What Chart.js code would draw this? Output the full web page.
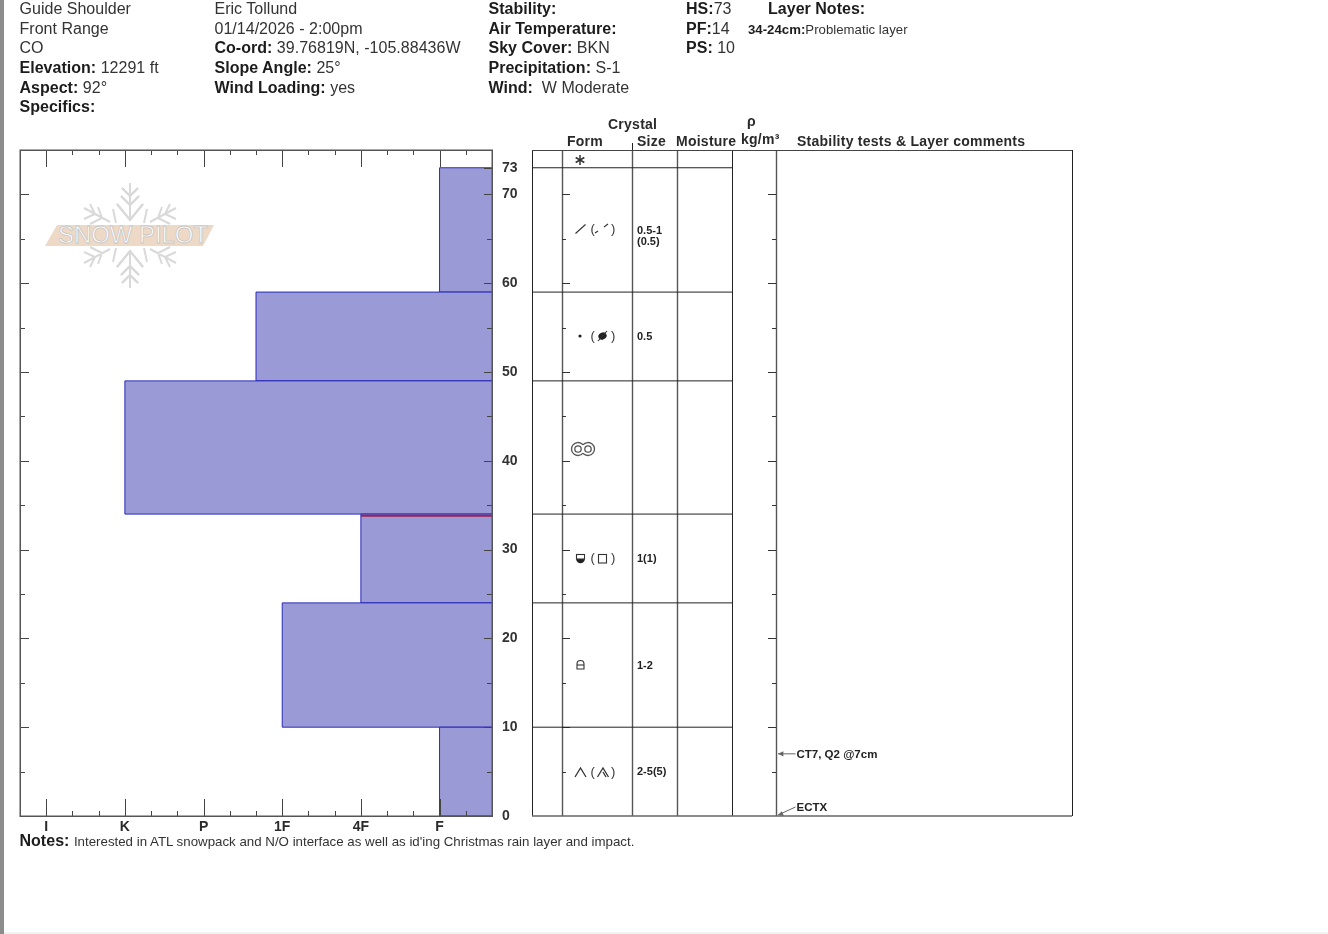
<!DOCTYPE html>
<html>
<head>
<meta charset="utf-8">
<title>Snow profile</title>
<script src="https://cdn.jsdelivr.net/npm/chart.js@4"></script>
<style>
  html, body { margin: 0; padding: 0; background: #fff; width: 1328px; height: 934px; overflow: hidden; }
  body { position: relative; font-family: "Liberation Sans", Arial, sans-serif; color: #333; }
  #strip { position: absolute; left: 0; top: 0; width: 4px; height: 934px; background: #8c8c8c; }
  #foot { position: absolute; left: 4px; right: 0; top: 932px; height: 2px; background: #f2f2f2; }
  canvas { position: absolute; top: 0; }
  #hardness { left: 0; }
  #table { left: 530px; }
  #mark { position: absolute; left: 0; top: 0; }
  .t { position: absolute; white-space: pre; font-size: 16px; line-height: 18px; letter-spacing: 0.02px; }
  .t b { color: #1c1c1c; }
  .h { position: absolute; white-space: pre; font-size: 14px; line-height: 16px; font-weight: bold; color: #2a2a2a; letter-spacing: 0.25px; }
</style>
</head>
<body>
<div id="strip"></div><div id="foot"></div>

<svg id="mark" width="240" height="300" viewBox="0 0 240 300">
  <defs>
    <g id="arm" fill="none" stroke="#d9d9d9" stroke-width="2">
      <path d="M130 183V220M122 188L130 196L138 188M121 196L130 205L139 196M117 204L130 220L143 204"/>
      <path d="M84 208L110 222M90 204L95 214L84 219M98 207L102 218L90 224M113 209L116 223"/>
    </g>
  </defs>
  <use href="#arm"/>
  <use href="#arm" transform="translate(260 0) scale(-1 1)"/>
  <use href="#arm" transform="translate(0 471) scale(1 -1)"/>
  <use href="#arm" transform="translate(260 471) scale(-1 -1)"/>
  <polygon points="45,246 57,225 214,225 203,246" fill="#eed9c7"/>
  <text x="133" y="243" text-anchor="middle" font-family="Liberation Sans" font-size="23"
        textLength="150" lengthAdjust="spacingAndGlyphs"
        fill="#ffffff" stroke="#c8c6c4" stroke-width="0.8">SNOW PILOT</text>
</svg>

<canvas id="hardness" width="530" height="836"></canvas>
<canvas id="table" width="560" height="836"></canvas>

<div class="t" style="left:19.5px;top:0px">Guide Shoulder</div>
<div class="t" style="left:19.5px;top:20px">Front Range</div>
<div class="t" style="left:19.5px;top:39px">CO</div>
<div class="t" style="left:19.5px;top:59px"><b>Elevation:</b> 12291 ft</div>
<div class="t" style="left:19.5px;top:79px"><b>Aspect:</b> 92°</div>
<div class="t" style="left:19.5px;top:98px"><b>Specifics:</b></div>

<div class="t" style="left:214.5px;top:0px">Eric Tollund</div>
<div class="t" style="left:214.5px;top:20px">01/14/2026 - 2:00pm</div>
<div class="t" style="left:214.5px;top:39px"><b>Co-ord:</b> 39.76819N, -105.88436W</div>
<div class="t" style="left:214.5px;top:59px"><b>Slope Angle:</b> 25°</div>
<div class="t" style="left:214.5px;top:79px"><b>Wind Loading:</b> yes</div>

<div class="t" style="left:488.5px;top:0px"><b>Stability:</b></div>
<div class="t" style="left:488.5px;top:20px"><b>Air Temperature:</b></div>
<div class="t" style="left:488.5px;top:39px"><b>Sky Cover:</b> BKN</div>
<div class="t" style="left:488.5px;top:59px"><b>Precipitation:</b> S-1</div>
<div class="t" style="left:488.5px;top:79px"><b>Wind:</b>  W Moderate</div>

<div class="t" style="left:686px;top:0px"><b>HS:</b>73</div>
<div class="t" style="left:686px;top:20px"><b>PF:</b>14</div>
<div class="t" style="left:686px;top:39px"><b>PS:</b> 10</div>

<div class="t" style="left:768px;top:0px"><b>Layer Notes:</b></div>
<div class="t" style="left:748px;top:21px;font-size:13.2px"><b>34-24cm:</b>Problematic layer</div>

<div class="h" style="left:608px;top:116px">Crystal</div>
<div class="h" style="left:567px;top:133px">Form</div>
<div class="h" style="left:637px;top:133px">Size</div>
<div class="h" style="left:676px;top:133px">Moisture</div>
<div class="h" style="left:747px;top:113px">ρ</div>
<div class="h" style="left:741px;top:131px">kg/m³</div>
<div class="h" style="left:797px;top:133px">Stability tests &amp; Layer comments</div>

<div class="t" style="left:19.5px;top:832px"><b>Notes:</b> <span style="font-size:13.3px;letter-spacing:0">Interested in ATL snowpack and N/O interface as well as id'ing Christmas rain layer and impact.</span></div>

<script>
// Snow layers, bottom to top (cm above ground), with hand hardness on a third-step index
const layerBottoms = [0, 10, 24, 34, 49, 59];
const layerTops = [10, 24, 34, 49, 59, 73];
const layerHardness = [2, 8, 5, 14, 9, 2];

// Hardness index positions and their names
const hardnessTicks = [2, 5, 8, 11, 14, 17];
const hardnessNames = ['F', '4F', '1F', 'P', 'K', 'I'];

// Problem interface marked on the profile
const criticalDepth = [33.8];
const criticalHardness = [5];

// Rows of the crystal table, bottom to top; the last row is the surface layer
const tableBoundaries = [10, 24, 34, 49, 59, 73];
const rowCentres = [5, 17, 29, 41.5, 54, 66, 74];
const rowForms = ['depth', 'facetRound', 'meltFacet', 'melt', 'fragment', 'decomposed', 'star'];
const rowSizes = [['2-5(5)'], ['1-2'], ['1(1)'], [], ['0.5'], ['0.5-1', '(0.5)'], []];

// Stability test results
const testNames = ['CT7, Q2 @7cm', 'ECTX'];
const testDepths = [7, 0];

const depthTicks = [0, 5, 10, 15, 20, 25, 30, 35, 40, 45, 50, 55, 60, 65, 70];
const depthLabels = [0, 10, 20, 30, 40, 50, 60, 70, 73];

const INK = '#555';
const line = (c, x0, y0, x1, y1) => { c.beginPath(); c.moveTo(x0, y0); c.lineTo(x1, y1); c.stroke(); };

// Inward tick marks and the outer frame of the hardness plot
const hardnessFrame = {
  id: 'hardnessFrame',
  afterDatasetsDraw(chart) {
    const { ctx: c, chartArea: a, scales: { x, y } } = chart;
    c.save();
    c.strokeStyle = '#444';
    c.lineWidth = 1;
    for (let v = 0; v <= 18; v++) {
      const px = Math.round(x.getPixelForValue(v)) + 0.5;
      const len = hardnessTicks.includes(v) ? 17 : 5;
      line(c, px, a.top, px, a.top + len);
      line(c, px, a.bottom, px, a.bottom - len);
    }
    depthTicks.concat([73]).forEach(v => {
      const py = Math.round(y.getPixelForValue(v)) + 0.5;
      const major = v % 10 === 0 || v === 73;
      if (v !== 73) line(c, a.left, py, a.left + (major ? 9 : 5), py);
      line(c, a.right, py, a.right - (major ? 8 : 5), py);
    });
    c.strokeStyle = INK;
    c.lineWidth = 1.5;
    c.strokeRect(a.left + 0.25, a.top + 0.25, a.width, a.height);
    c.restore();
  }
};

const layerDatasets = layerBottoms.map((bottom, i) => ({
  type: 'line',
  label: 'Layer ' + bottom + '-' + layerTops[i],
  data: [
    { x: 0, y: bottom },
    { x: layerHardness[i], y: bottom },
    { x: layerHardness[i], y: layerTops[i] },
    { x: 0, y: layerTops[i] }
  ],
  borderColor: '#2a2ab8',
  borderWidth: 1,
  backgroundColor: '#9a9ad6',
  fill: 'origin',
  pointRadius: 0,
  tension: 0
}));

const criticalDataset = {
  type: 'line',
  label: 'Problematic layer',
  order: -1,
  data: [{ x: 0, y: criticalDepth[0] }, { x: criticalHardness[0], y: criticalDepth[0] }],
  borderColor: '#a02050',
  borderWidth: 2,
  fill: false,
  pointRadius: 0
};

new Chart(document.getElementById('hardness'), {
  type: 'line',
  data: { datasets: layerDatasets.concat([criticalDataset]) },
  options: {
    indexAxis: 'y',
    responsive: false,
    animation: false,
    layout: { padding: { left: 20, top: 150, right: 0, bottom: 0 } },
    plugins: { legend: { display: false }, tooltip: { enabled: false } },
    scales: {
      x: {
        type: 'linear',
        reverse: true,
        min: 0,
        max: 18,
        grid: { display: false, drawTicks: false },
        border: { display: false },
        afterBuildTicks(s) { s.ticks = hardnessTicks.map(value => ({ value })); },
        afterFit(s) { s.height = 20; },
        ticks: {
          autoSkip: false,
          maxRotation: 0,
          padding: 3,
          color: '#2a2a2a',
          font: { family: 'Liberation Sans', size: 14, weight: 'bold' },
          callback: v => hardnessNames[hardnessTicks.indexOf(v)]
        }
      },
      y: {
        type: 'linear',
        position: 'right',
        min: 0,
        max: 75,
        grid: { display: false, drawTicks: false },
        border: { display: false },
        afterBuildTicks(s) { s.ticks = depthLabels.map(value => ({ value })); },
        afterFit(s) { s.width = 38; },
        ticks: {
          autoSkip: false,
          padding: 10,
          color: '#333',
          font: { family: 'Liberation Sans', size: 14, weight: 'bold' },
          callback: v => String(v)
        }
      }
    }
  },
  plugins: [hardnessFrame]
});

// Crystal form glyphs, drawn around a centre point
function wrap(c, y) {
  c.save();
  c.font = '13px "Liberation Sans"';
  c.fillStyle = '#333';
  c.textBaseline = 'middle';
  c.fillText('(', 590.5, y);
  c.fillText(')', 611, y);
  c.restore();
}
function caret(c, x, y) { c.beginPath(); c.moveTo(x - 5.5, y + 5); c.lineTo(x, y - 4); c.lineTo(x + 5.5, y + 5); c.stroke(); }
const glyphs = {
  star(c, y) {
    c.lineWidth = 1.5;
    for (let k = 0; k < 3; k++) {
      const a = Math.PI / 2 + k * Math.PI / 3;
      line(c, 580 + 5 * Math.cos(a), y + 1 + 5 * Math.sin(a), 580 - 5 * Math.cos(a), y + 1 - 5 * Math.sin(a));
    }
  },
  decomposed(c, y) {
    line(c, 575.5, y + 3.5, 585.5, y - 5.5);
    wrap(c, y - 1);
    line(c, 595, y + 3, 598, y + 1); line(c, 604, y - 3, 608, y - 6);
  },
  fragment(c, y) {
    c.beginPath(); c.arc(580, y, 1.6, 0, 7); c.fill();
    wrap(c, y);
    c.beginPath(); c.ellipse(602.5, y, 4.3, 3.4, -0.5, 0, 7); c.fill();
    line(c, 598, y + 5, 607, y - 5);
  },
  melt(c, y) {
    c.strokeStyle = '#555';
    c.lineWidth = 1.3;
    y += 2;
    c.beginPath(); c.arc(578, y, 6.5, 0.69, -0.69); c.stroke();
    c.beginPath(); c.arc(588, y, 6.5, Math.PI + 0.69, Math.PI - 0.69); c.stroke();
    c.beginPath(); c.arc(578, y, 3.2, 0, 7); c.stroke();
    c.beginPath(); c.arc(588, y, 3.2, 0, 7); c.stroke();
  },
  meltFacet(c, y) {
    c.beginPath(); c.arc(580.5, y + 1, 4.3, 0, Math.PI); c.fill();
    c.strokeRect(576.5, y - 3.5, 8, 4.5);
    wrap(c, y);
    c.strokeRect(598.5, y - 3.5, 8, 8.5);
  },
  facetRound(c, y) {
    c.beginPath();
    c.arc(580.5, y - 1, 3.5, Math.PI, 0);
    c.lineTo(584, y + 4); c.lineTo(577, y + 4); c.closePath(); c.stroke();
    line(c, 577, y, 584, y);
  },
  depth(c, y) {
    c.lineWidth = 1.3;
    caret(c, 580.5, y);
    wrap(c, y);
    caret(c, 603, y);
    line(c, 603, y, 606, y + 5);
  }
};

// Column rules, depth ticks, cell text and test callouts of the crystal table
const columnEdges = [0, 30, 100, 145, 200, 244, 540];
const tableFrame = {
  id: 'tableFrame',
  beforeDatasetsDraw(chart) {
    const { ctx: c, chartArea: a, scales: { x, y } } = chart;
    c.save();
    columnEdges.forEach((edge, i) => {
      const px = Math.round(x.getPixelForValue(edge));
      c.strokeStyle = i === 0 || i === 4 || i === 6 ? '#222' : '#555';
      c.lineWidth = i === 0 || i === 4 || i === 6 ? 1 : 1.4;
      line(c, px + 0.5, a.top, px + 0.5, a.bottom);
    });
    const sizeRule = Math.round(x.getPixelForValue(columnEdges[2])) + 0.5;
    line(c, sizeRule, a.top - 7, sizeRule, a.top);
    c.strokeStyle = '#333';
    c.lineWidth = 1;
    depthTicks.forEach(v => {
      const py = Math.round(y.getPixelForValue(v)) + 0.5;
      const len = v % 10 === 0 ? 8 : 4;
      const form = Math.round(x.getPixelForValue(columnEdges[1]));
      const dens = Math.round(x.getPixelForValue(columnEdges[5]));
      if (v !== 0) { line(c, form, py, form + len, py); line(c, dens, py, dens - len, py); }
    });
    c.strokeStyle = '#444';
    c.lineWidth = 1;
    line(c, a.left, a.top + 0.5, a.right, a.top + 0.5);
    c.strokeStyle = '#666';
    c.lineWidth = 1.6;
    line(c, a.left, a.bottom, a.right, a.bottom);
    c.restore();
  },
  afterDatasetsDraw(chart) {
    const { ctx: c, scales: { x, y } } = chart;
    c.save();
    rowForms.forEach((form, i) => {
      c.save();
      c.strokeStyle = '#333';
      c.fillStyle = '#222';
      c.lineWidth = 1.1;
      c.translate(-530, 0);
      glyphs[form](c, Math.round(y.getPixelForValue(rowCentres[i])));
      c.restore();
    });
    c.fillStyle = '#222';
    c.font = 'bold 11px "Liberation Sans"';
    c.textBaseline = 'middle';
    rowSizes.forEach((lines, i) => {
      const py = y.getPixelForValue(rowCentres[i]);
      lines.forEach((text, k) => {
        c.fillText(text, x.getPixelForValue(105), py + 0.8 + k * 11);
      });
    });
    c.font = 'bold 11.5px "Liberation Sans"';
    c.strokeStyle = '#666';
    testNames.forEach((name, i) => {
      const py = y.getPixelForValue(testDepths[i]);
      const wall = x.getPixelForValue(columnEdges[5]) + 2;
      const textX = x.getPixelForValue(264.5);
      const ty = testDepths[i] === 0 ? py - 9 : py;
      c.fillStyle = '#222';
      c.fillText(name, textX, ty + 1);
      line(c, wall, py - (testDepths[i] === 0 ? 1 : 0), textX - 1, ty);
      const ang = Math.atan2(ty - py, textX - wall);
      c.beginPath();
      c.moveTo(wall, py - (testDepths[i] === 0 ? 1 : 0));
      c.lineTo(wall + 6 * Math.cos(ang - 0.45), py + 6 * Math.sin(ang - 0.45));
      c.lineTo(wall + 6 * Math.cos(ang + 0.45), py + 6 * Math.sin(ang + 0.45));
      c.closePath();
      c.fillStyle = '#666';
      c.fill();
    });
    c.restore();
  }
};

new Chart(document.getElementById('table'), {
  type: 'line',
  data: {
    datasets: tableBoundaries.map(depth => ({
      label: 'Boundary ' + depth,
      data: [{ x: 0, y: depth }, { x: columnEdges[4], y: depth }],
      borderColor: '#222',
      borderWidth: 1,
      pointRadius: 0,
      fill: false
    }))
  },
  options: {
    responsive: false,
    animation: false,
    layout: { padding: { left: 2, top: 150, right: 18, bottom: 20 } },
    plugins: { legend: { display: false }, tooltip: { enabled: false } },
    scales: {
      x: { type: 'linear', min: 0, max: 540, display: false },
      y: { type: 'linear', min: 0, max: 75, display: false }
    }
  },
  plugins: [tableFrame]
});
</script>
</body>
</html>
